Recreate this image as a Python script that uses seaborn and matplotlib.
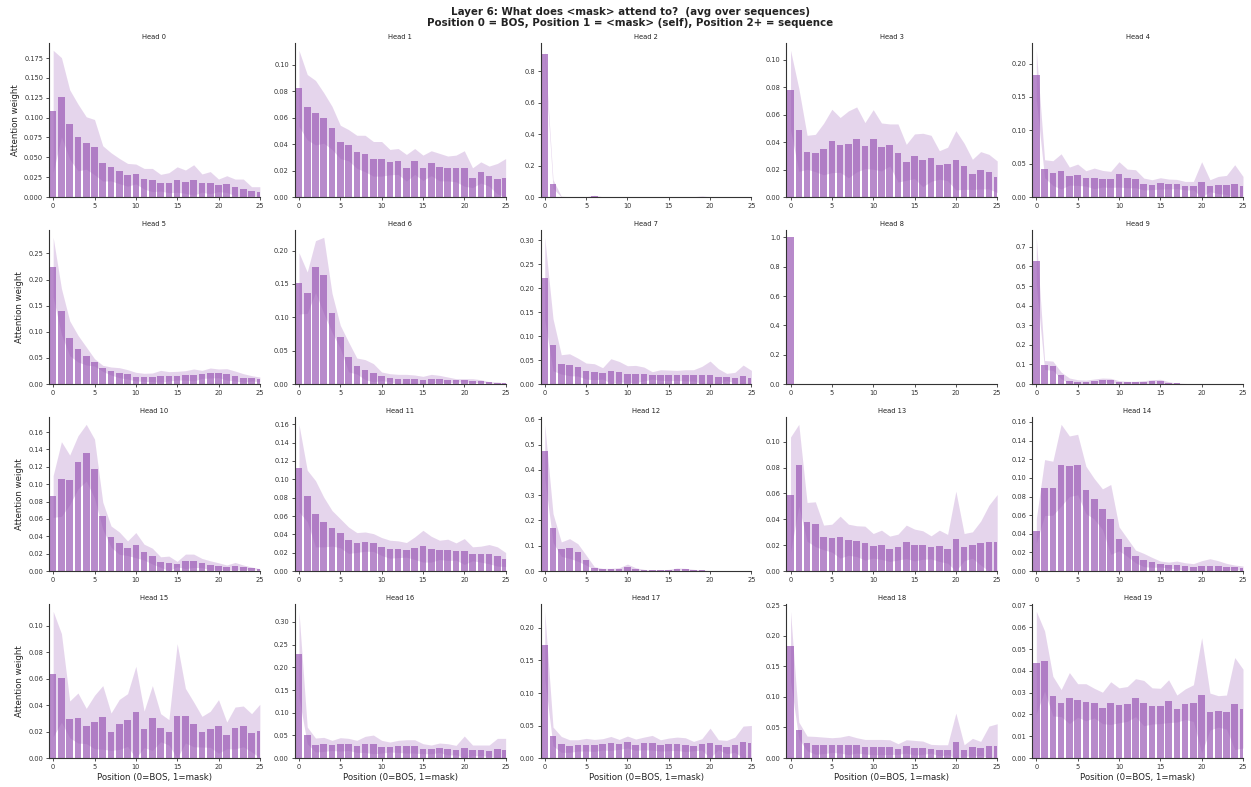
import numpy as np
import matplotlib
matplotlib.use("Agg")
import matplotlib.pyplot as plt
import seaborn as sns

# Key positions attended to by the <mask> token (0 = BOS, 1 = <mask>, 2+ = sequence)
positions = np.arange(26)
tick_positions = [0, 5, 10, 15, 20, 25]

# Mean attention weight and standard deviation across sequences, one pair per head
head0_mean = [0.108, 0.1256, 0.0913, 0.075, 0.068, 0.0628, 0.0423, 0.038, 0.0327, 0.028, 0.029, 0.023, 0.0214,
              0.018, 0.018, 0.022, 0.0193, 0.0214, 0.0176, 0.018, 0.0147, 0.0163, 0.0121, 0.0105, 0.0075, 0.0063]
head0_std = [0.0767, 0.0499, 0.0437, 0.042, 0.033, 0.0348, 0.0222, 0.0177, 0.0159, 0.0143, 0.0125, 0.013, 0.0146,
             0.0105, 0.0126, 0.016, 0.0147, 0.0192, 0.0114, 0.014, 0.0079, 0.0105, 0.0105, 0.0121, 0.0055, 0.0067]

head1_mean = [0.0822, 0.068, 0.0638, 0.0598, 0.0523, 0.0417, 0.0392, 0.0342, 0.0329, 0.0289, 0.0289, 0.0264, 0.0269,
              0.0221, 0.0269, 0.0221, 0.0256, 0.0226, 0.0216, 0.0216, 0.0216, 0.0146, 0.0186, 0.0158, 0.0138, 0.0146]
head1_std = [0.0288, 0.0247, 0.0244, 0.0191, 0.0163, 0.0126, 0.0118, 0.0125, 0.0138, 0.0131, 0.0131, 0.0096, 0.0098,
             0.0101, 0.0098, 0.0096, 0.0094, 0.0104, 0.0094, 0.0101, 0.0134, 0.0075, 0.008, 0.0076, 0.0116, 0.0145]

head2_mean = [0.908, 0.083, 0.002, 0.001, 0.001, 0.001, 0.006, 0.001, 0.001, 0.001, 0.001, 0.001, 0.001,
              0.001, 0.001, 0.001, 0.001, 0.001, 0.001, 0.003, 0.001, 0.001, 0.001, 0.001, 0.001, 0.001]
head2_std = [0.025, 0.027, 0.003, 0.001, 0.001, 0.001, 0.005, 0.001, 0.001, 0.001, 0.001, 0.001, 0.001,
             0.001, 0.001, 0.001, 0.001, 0.001, 0.001, 0.004, 0.001, 0.001, 0.001, 0.001, 0.001, 0.001]

head3_mean = [0.078, 0.049, 0.0326, 0.0321, 0.035, 0.0409, 0.038, 0.0384, 0.042, 0.0375, 0.042, 0.0365, 0.038,
              0.0321, 0.0253, 0.0297, 0.027, 0.0282, 0.0234, 0.0241, 0.0268, 0.0224, 0.0165, 0.0195, 0.0185, 0.0148]
head3_std = [0.029, 0.0303, 0.0124, 0.0136, 0.0188, 0.0231, 0.02, 0.0244, 0.0237, 0.0168, 0.0217, 0.0175, 0.0153,
             0.0212, 0.0131, 0.0163, 0.0195, 0.0168, 0.0104, 0.0122, 0.0216, 0.0168, 0.011, 0.0136, 0.0126, 0.0115]

head4_mean = [0.183, 0.0424, 0.0359, 0.0384, 0.0314, 0.0334, 0.0279, 0.0279, 0.0274, 0.0264, 0.0339, 0.0279, 0.0274,
              0.0195, 0.0185, 0.0204, 0.0195, 0.0195, 0.017, 0.017, 0.0229, 0.017, 0.018, 0.018, 0.02, 0.0165]
head4_std = [0.037, 0.0135, 0.0185, 0.0264, 0.0135, 0.016, 0.0115, 0.0155, 0.0125, 0.012, 0.019, 0.014, 0.0135,
             0.0089, 0.0074, 0.0085, 0.0074, 0.0069, 0.0064, 0.0064, 0.03, 0.0089, 0.0129, 0.0144, 0.0284, 0.0144]

head5_mean = [0.224, 0.139, 0.0876, 0.0678, 0.0537, 0.0416, 0.03, 0.0249, 0.0217, 0.0185, 0.0141, 0.0128, 0.0128,
              0.0147, 0.0147, 0.016, 0.0166, 0.0173, 0.0185, 0.0211, 0.0205, 0.0185, 0.0153, 0.0115, 0.0109, 0.009]
head5_std = [0.057, 0.044, 0.0334, 0.0256, 0.0173, 0.007, 0.0058, 0.0077, 0.0096, 0.009, 0.0083, 0.0077, 0.0083,
             0.0115, 0.009, 0.0083, 0.009, 0.0115, 0.0077, 0.0096, 0.0083, 0.0109, 0.0096, 0.0083, 0.0051, 0.0044]

head6_mean = [0.151, 0.137, 0.176, 0.163, 0.1068, 0.0707, 0.0406, 0.027, 0.0216, 0.017, 0.0115, 0.0095, 0.007,
              0.007, 0.007, 0.006, 0.008, 0.008, 0.006, 0.0055, 0.0055, 0.005, 0.0045, 0.0025, 0.002, 0.001]
head6_std = [0.046, 0.031, 0.039, 0.057, 0.0292, 0.0173, 0.0224, 0.012, 0.015, 0.0136, 0.0065, 0.006, 0.0075,
             0.0075, 0.0065, 0.0055, 0.0065, 0.005, 0.0045, 0.0025, 0.0025, 0.003, 0.002, 0.001, 0.001, 0.0005]

head7_mean = [0.22, 0.0818, 0.0409, 0.0402, 0.0353, 0.027, 0.0256, 0.0222, 0.027, 0.0256, 0.0208, 0.0208, 0.0208,
              0.018, 0.0187, 0.018, 0.018, 0.018, 0.018, 0.0187, 0.0187, 0.0152, 0.0146, 0.0132, 0.0159, 0.0132]
head7_std = [0.0856, 0.0542, 0.0201, 0.0228, 0.0187, 0.0167, 0.0167, 0.0118, 0.0257, 0.0214, 0.0173, 0.018, 0.0145,
             0.0076, 0.0111, 0.0111, 0.0104, 0.0118, 0.0118, 0.018, 0.0291, 0.0167, 0.0076, 0.0111, 0.0236, 0.0152]

head8_mean = [0.9995, 0.0003, 0.0001, 0.0001, 0.0001, 0.0001, 0.0001, 0.0001, 0.0001, 0.0001, 0.0001, 0.0001, 0.0001,
              0.0001, 0.0001, 0.0001, 0.0001, 0.0001, 0.0001, 0.0001, 0.0001, 0.0001, 0.0001, 0.0001, 0.0001, 0.0001]
head8_std = [0.001, 0.0005, 0.0001, 0.0001, 0.0001, 0.0001, 0.0001, 0.0001, 0.0001, 0.0001, 0.0001, 0.0001, 0.0001,
             0.0001, 0.0001, 0.0001, 0.0001, 0.0001, 0.0001, 0.0001, 0.0001, 0.0001, 0.0001, 0.0001, 0.0001, 0.0001]

head9_mean = [0.629, 0.097, 0.0934, 0.044, 0.017, 0.01, 0.01, 0.015, 0.02, 0.019, 0.01, 0.0085, 0.0085,
              0.01, 0.0136, 0.0136, 0.007, 0.0034, 0.0017, 0.0005, 0.0005, 0.0005, 0.0005, 0.0005, 0.0005, 0.0005]
head9_std = [0.12, 0.023, 0.0236, 0.017, 0.0136, 0.012, 0.01, 0.0105, 0.0106, 0.01, 0.007, 0.0051, 0.0051,
             0.007, 0.0084, 0.0104, 0.005, 0.0016, 0.0013, 0.0005, 0.0005, 0.0005, 0.0005, 0.0005, 0.0005, 0.0005]

head10_mean = [0.0859, 0.106, 0.105, 0.1252, 0.1363, 0.118, 0.0638, 0.0397, 0.0321, 0.0263, 0.0298, 0.0218, 0.0172,
               0.0103, 0.0088, 0.008, 0.0111, 0.0118, 0.0092, 0.0065, 0.0057, 0.0042, 0.0057, 0.0042, 0.0034, 0.0023]
head10_std = [0.0241, 0.043, 0.0286, 0.0306, 0.0327, 0.034, 0.0156, 0.0122, 0.0129, 0.0084, 0.0145, 0.0091, 0.0091,
              0.0061, 0.0084, 0.0031, 0.0084, 0.0077, 0.0053, 0.0053, 0.0038, 0.0027, 0.0042, 0.0027, 0.0012, 0.0004]

head11_mean = [0.1123, 0.082, 0.0625, 0.0534, 0.0466, 0.0412, 0.0336, 0.0311, 0.0321, 0.0311, 0.0267, 0.0238, 0.0238,
               0.0231, 0.0249, 0.0271, 0.0238, 0.0231, 0.0231, 0.0213, 0.0213, 0.0188, 0.0184, 0.0184, 0.0159, 0.0126]
head11_std = [0.0477, 0.028, 0.0361, 0.0271, 0.0194, 0.0158, 0.0144, 0.0108, 0.0105, 0.0097, 0.0098, 0.0098, 0.0091,
              0.008, 0.0123, 0.0173, 0.0141, 0.0105, 0.0116, 0.0094, 0.0141, 0.0076, 0.0087, 0.0105, 0.0105, 0.0076]

head12_mean = [0.474, 0.17, 0.0865, 0.0891, 0.0734, 0.0432, 0.0118, 0.0066, 0.0066, 0.0066, 0.0144, 0.0079, 0.0052,
               0.003, 0.003, 0.003, 0.0079, 0.0079, 0.004, 0.003, 0.001, 0.001, 0.001, 0.001, 0.001, 0.001]
head12_std = [0.106, 0.057, 0.0285, 0.0389, 0.0346, 0.0198, 0.0052, 0.0039, 0.0039, 0.0064, 0.0131, 0.0051, 0.0014,
              0.001, 0.001, 0.0036, 0.0039, 0.0026, 0.0026, 0.001, 0.001, 0.001, 0.001, 0.001, 0.001, 0.001]

head13_mean = [0.0591, 0.0817, 0.038, 0.0362, 0.026, 0.0254, 0.0262, 0.0242, 0.0231, 0.0216, 0.0195, 0.0203, 0.0172,
               0.0185, 0.0226, 0.0201, 0.0201, 0.0183, 0.0195, 0.0172, 0.0247, 0.0185, 0.0201, 0.0216, 0.0221, 0.0226]
head13_std = [0.0445, 0.0317, 0.015, 0.0173, 0.0095, 0.0108, 0.0162, 0.012, 0.0119, 0.0131, 0.0095, 0.0113, 0.0098,
              0.01, 0.0129, 0.0123, 0.011, 0.0089, 0.0121, 0.0111, 0.037, 0.0105, 0.0102, 0.017, 0.0288, 0.0365]

head14_mean = [0.0429, 0.0896, 0.0889, 0.1136, 0.1125, 0.1143, 0.0871, 0.0775, 0.0664, 0.0554, 0.0346, 0.0254, 0.0157,
               0.0118, 0.0093, 0.0075, 0.0064, 0.0064, 0.005, 0.0046, 0.0057, 0.0057, 0.0057, 0.0046, 0.0043, 0.0029]
head14_std = [0.0131, 0.03, 0.029, 0.0439, 0.0325, 0.0325, 0.0254, 0.0218, 0.0218, 0.0375, 0.0129, 0.0096, 0.0068,
              0.0071, 0.0053, 0.0032, 0.0032, 0.0043, 0.0039, 0.0033, 0.0054, 0.0075, 0.0054, 0.0036, 0.0021, 0.0025]

head15_mean = [0.0635, 0.0605, 0.0292, 0.0302, 0.0242, 0.0272, 0.0307, 0.0199, 0.0254, 0.0287, 0.0345, 0.0217, 0.0302,
               0.0229, 0.0194, 0.032, 0.032, 0.0254, 0.0199, 0.0217, 0.0239, 0.0171, 0.0227, 0.0239, 0.0191, 0.0204]
head15_std = [0.0473, 0.0335, 0.0139, 0.0189, 0.0133, 0.0202, 0.024, 0.0141, 0.0189, 0.0199, 0.0348, 0.0138, 0.0245,
              0.0106, 0.0096, 0.0544, 0.0206, 0.0169, 0.0116, 0.0136, 0.0202, 0.0101, 0.0158, 0.0154, 0.0144, 0.0202]

head16_mean = [0.2287, 0.05, 0.0287, 0.0301, 0.0279, 0.0301, 0.0301, 0.0257, 0.0301, 0.0301, 0.025, 0.0243, 0.0257,
               0.0257, 0.0257, 0.0206, 0.0191, 0.0228, 0.0191, 0.0176, 0.0228, 0.0169, 0.0169, 0.0162, 0.0206, 0.0176]
head16_std = [0.0948, 0.0184, 0.0154, 0.0155, 0.0111, 0.0148, 0.0133, 0.0133, 0.0177, 0.0206, 0.014, 0.011, 0.0133,
              0.0147, 0.0147, 0.011, 0.0096, 0.0103, 0.0125, 0.0103, 0.0257, 0.0118, 0.0118, 0.0125, 0.0228, 0.0258]

head17_mean = [0.174, 0.0332, 0.021, 0.0184, 0.0194, 0.0205, 0.0194, 0.021, 0.0225, 0.021, 0.0246, 0.0205, 0.0225,
               0.0235, 0.0194, 0.021, 0.022, 0.0205, 0.0184, 0.021, 0.023, 0.0205, 0.0169, 0.0205, 0.024, 0.023]
head17_std = [0.0516, 0.0144, 0.0122, 0.0097, 0.0087, 0.0097, 0.0092, 0.0087, 0.0107, 0.0076, 0.0092, 0.0087, 0.0097,
              0.0113, 0.0087, 0.0097, 0.0102, 0.0107, 0.0072, 0.0087, 0.023, 0.0076, 0.0102, 0.0117, 0.0251, 0.0271]

head18_mean = [0.1826, 0.0451, 0.0239, 0.0207, 0.0207, 0.0212, 0.0212, 0.0212, 0.0207, 0.0185, 0.0179, 0.0179, 0.0179,
               0.0147, 0.019, 0.0168, 0.0168, 0.0152, 0.0125, 0.0136, 0.0255, 0.0125, 0.0174, 0.0158, 0.0196, 0.0201]
head18_std = [0.0571, 0.0136, 0.012, 0.0146, 0.0135, 0.012, 0.013, 0.0158, 0.0125, 0.0119, 0.0125, 0.0125, 0.012,
              0.0087, 0.0109, 0.012, 0.0109, 0.0071, 0.0092, 0.0081, 0.0479, 0.0092, 0.0147, 0.0114, 0.0326, 0.0359]

head19_mean = [0.0438, 0.0445, 0.0284, 0.0252, 0.0275, 0.0264, 0.0256, 0.0252, 0.023, 0.0252, 0.0242, 0.0248, 0.0277,
               0.0252, 0.0239, 0.0239, 0.0261, 0.0227, 0.0247, 0.0252, 0.0288, 0.0213, 0.0214, 0.0211, 0.025, 0.0227]
head19_std = [0.0235, 0.0138, 0.0091, 0.0062, 0.0117, 0.0077, 0.0085, 0.0068, 0.0072, 0.0098, 0.008, 0.008, 0.0087,
              0.0104, 0.0083, 0.0081, 0.0098, 0.0062, 0.007, 0.0084, 0.0264, 0.0085, 0.0072, 0.0078, 0.0211, 0.0181]

head_means = [head0_mean, head1_mean, head2_mean, head3_mean, head4_mean, head5_mean, head6_mean,
              head7_mean, head8_mean, head9_mean, head10_mean, head11_mean, head12_mean, head13_mean,
              head14_mean, head15_mean, head16_mean, head17_mean, head18_mean, head19_mean]
head_stds = [head0_std, head1_std, head2_std, head3_std, head4_std, head5_std, head6_std,
             head7_std, head8_std, head9_std, head10_std, head11_std, head12_std, head13_std,
             head14_std, head15_std, head16_std, head17_std, head18_std, head19_std]

PURPLE = "#9b59b6"
N_ROWS, N_COLS = 4, 5

sns.set_theme(style="ticks")
plt.rcParams["font.family"] = ["DejaVu Sans"]
plt.rcParams["text.color"] = "#222222"
plt.rcParams["axes.labelcolor"] = "#222222"
plt.rcParams["xtick.color"] = "#333333"
plt.rcParams["ytick.color"] = "#333333"
plt.rcParams["axes.edgecolor"] = "#333333"

fig, axes = plt.subplots(N_ROWS, N_COLS, figsize=(12.51, 7.87), dpi=100)
fig.subplots_adjust(left=0.0392, right=0.9936, top=0.9454, bottom=0.0368,
                    wspace=0.166, hspace=0.214)

for head, ax in enumerate(axes.flat):
    mean = np.asarray(head_means[head])
    std = np.asarray(head_stds[head])

    sns.barplot(x=positions, y=mean, native_scale=True, color=PURPLE, alpha=0.7,
                saturation=1, errorbar=None, width=0.8, linewidth=0, ax=ax)
    ax.fill_between(positions, np.clip(mean - std, 0, None), mean + std,
                    color=PURPLE, alpha=0.25, linewidth=0)

    ax.set_xlim(-0.5, 25)
    ax.set_ylim(bottom=0)
    ax.set_xticks(tick_positions)
    ax.set_xticklabels([str(t) for t in tick_positions])
    ax.set_title(f"Head {head}", fontsize=4.9, pad=3)
    ax.tick_params(labelsize=4.8, length=2.5, width=0.6, pad=1.7)
    for side in ("left", "bottom"):
        ax.spines[side].set_linewidth(0.8)

    row, col = divmod(head, N_COLS)
    ax.set_xlabel("Position (0=BOS, 1=mask)" if row == N_ROWS - 1 else "",
                  fontsize=6.2, labelpad=2)
    ax.set_ylabel("Attention weight" if col == 0 else "", fontsize=6.2, labelpad=3)

sns.despine(fig=fig)

fig.suptitle("Layer 6: What does <mask> attend to?  (avg over sequences)\n"
             "Position 0 = BOS, Position 1 = <mask> (self), Position 2+ = sequence",
             fontsize=7.4, fontweight="bold", x=0.5036, y=0.991, va="top",
             linespacing=1.1)

fig.savefig("out.png", dpi=100)
